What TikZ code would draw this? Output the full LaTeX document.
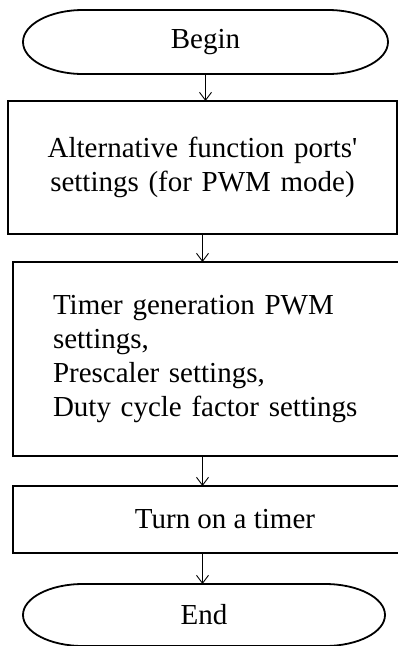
\documentclass[tikz,border=0pt]{standalone}
\usepackage{fontspec}
\setmainfont{Liberation Serif}
\usetikzlibrary{positioning, arrows.meta}

\begin{document}
\begin{tikzpicture}[x=1pt,y=1pt]
    \tikzset{terminal/.style={rectangle,draw=none,inner sep=0pt,outer sep=0pt,minimum height=64pt}}
    \tikzset{process/.style={rectangle,draw=black,line width=2.4pt,inner sep=0pt,outer sep=0pt}}
    \tikzset{flow/.style={-{Straight Barb[length=8pt,width=12pt]},line width=0.9pt}}
    \tikzset{every node/.style={font=\fontsize{29}{34}\selectfont}}
    \clip (0,0) rectangle (398,-646);
    \begin{scope}[node distance=28pt]
    \node[process, minimum width=389pt, minimum height=133pt, text width=330pt, align=center] at (202.5, -167.5) (ports) {Alternative function ports\textquotesingle{} settings (for PWM mode)};
    \node[terminal, minimum width=365pt, above=27pt of ports, xshift=3pt] (begin) {Begin};
    \node[process, minimum width=424pt, minimum height=194pt, text width=344pt, align=left, below=of ports, xshift=22.5pt] (timer) {Timer generation PWM\\settings,\\Prescaler settings,\\Duty cycle factor settings};
    \node[process, minimum width=424pt, minimum height=67pt, below=30pt of timer] (turnon) {Turn on a timer};
    \node[terminal, minimum width=362pt, minimum height=62pt, below=31pt of turnon, xshift=-21pt] (end) {End};
    \end{scope}

    % terminator outlines with elliptic ends
    \foreach \t/\ry in {begin/32, end/31}{
        \draw[line width=1.8pt] ([xshift=60pt]\t.north west) -- ([xshift=-60pt]\t.north east)
            arc[start angle=90, end angle=-90, x radius=60pt, y radius=\ry pt]
            -- ([xshift=60pt]\t.south west)
            arc[start angle=270, end angle=90, x radius=60pt, y radius=\ry pt] -- cycle;
    }

    \draw[flow] (begin.south) -- (begin.south |- ports.north);
    \draw[flow] (ports.south) -- (ports.south |- timer.north);
    \draw[flow] (timer.south -| ports.south) -- (turnon.north -| ports.south);
    \draw[flow] (turnon.south -| ports.south) -- (end.north -| ports.south);
\end{tikzpicture}
\end{document}
